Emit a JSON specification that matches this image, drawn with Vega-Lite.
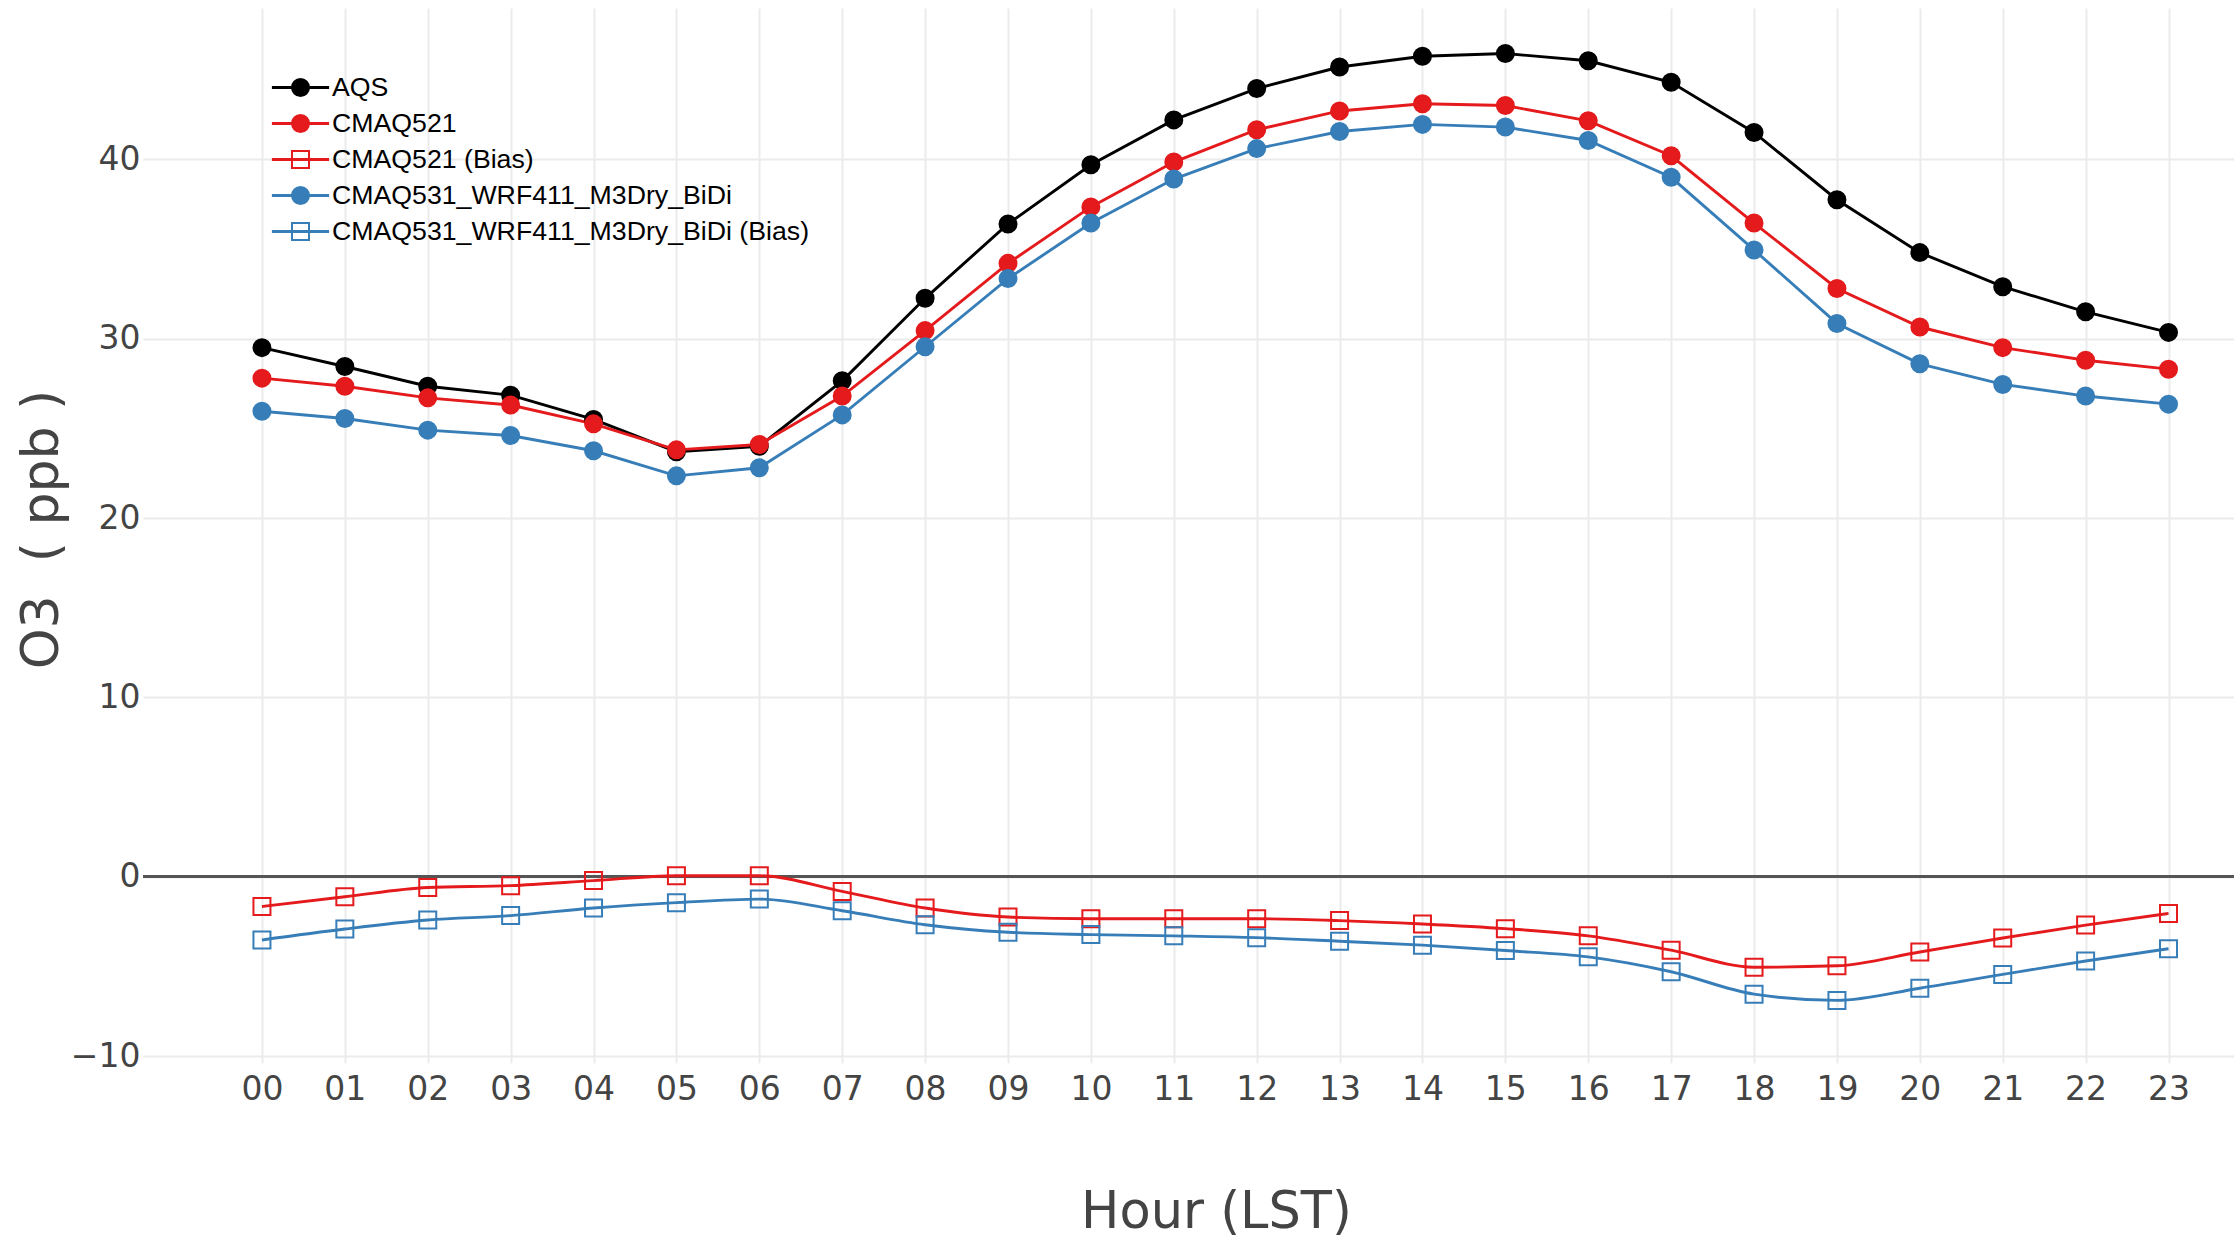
{
  "$schema": "https://vega.github.io/schema/vega-lite/v6.json",
  "width": 2091,
  "height": 1048,
  "autosize": {"type": "none"},
  "padding": {"left": 143, "top": 8, "right": 0, "bottom": 189},
  "background": "white",
  "config": {"view": {"stroke": null}, "font": "DejaVu Sans"},
  "datasets": {
    "o3": [
      {"hour":0,"series":"AQS","value":29.5},{"hour":1,"series":"AQS","value":28.45},{"hour":2,"series":"AQS","value":27.35},{"hour":3,"series":"AQS","value":26.85},{"hour":4,"series":"AQS","value":25.5},{"hour":5,"series":"AQS","value":23.7},{"hour":6,"series":"AQS","value":24.0},{"hour":7,"series":"AQS","value":27.65},{"hour":8,"series":"AQS","value":32.25},{"hour":9,"series":"AQS","value":36.4},{"hour":10,"series":"AQS","value":39.7},{"hour":11,"series":"AQS","value":42.2},{"hour":12,"series":"AQS","value":43.95},{"hour":13,"series":"AQS","value":45.15},{"hour":14,"series":"AQS","value":45.75},{"hour":15,"series":"AQS","value":45.9},{"hour":16,"series":"AQS","value":45.5},{"hour":17,"series":"AQS","value":44.3},{"hour":18,"series":"AQS","value":41.5},{"hour":19,"series":"AQS","value":37.75},{"hour":20,"series":"AQS","value":34.8},{"hour":21,"series":"AQS","value":32.9},{"hour":22,"series":"AQS","value":31.5},{"hour":23,"series":"AQS","value":30.35},
      {"hour":0,"series":"CMAQ521","value":27.8},{"hour":1,"series":"CMAQ521","value":27.35},{"hour":2,"series":"CMAQ521","value":26.7},{"hour":3,"series":"CMAQ521","value":26.3},{"hour":4,"series":"CMAQ521","value":25.25},{"hour":5,"series":"CMAQ521","value":23.8},{"hour":6,"series":"CMAQ521","value":24.1},{"hour":7,"series":"CMAQ521","value":26.8},{"hour":8,"series":"CMAQ521","value":30.45},{"hour":9,"series":"CMAQ521","value":34.2},{"hour":10,"series":"CMAQ521","value":37.35},{"hour":11,"series":"CMAQ521","value":39.85},{"hour":12,"series":"CMAQ521","value":41.65},{"hour":13,"series":"CMAQ521","value":42.7},{"hour":14,"series":"CMAQ521","value":43.1},{"hour":15,"series":"CMAQ521","value":43.0},{"hour":16,"series":"CMAQ521","value":42.15},{"hour":17,"series":"CMAQ521","value":40.2},{"hour":18,"series":"CMAQ521","value":36.45},{"hour":19,"series":"CMAQ521","value":32.8},{"hour":20,"series":"CMAQ521","value":30.65},{"hour":21,"series":"CMAQ521","value":29.5},{"hour":22,"series":"CMAQ521","value":28.8},{"hour":23,"series":"CMAQ521","value":28.3},
      {"hour":0,"series":"CMAQ521 (Bias)","value":-1.66},{"hour":1,"series":"CMAQ521 (Bias)","value":-1.12},{"hour":2,"series":"CMAQ521 (Bias)","value":-0.6},{"hour":3,"series":"CMAQ521 (Bias)","value":-0.5},{"hour":4,"series":"CMAQ521 (Bias)","value":-0.22},{"hour":5,"series":"CMAQ521 (Bias)","value":0.05},{"hour":6,"series":"CMAQ521 (Bias)","value":0.05},{"hour":7,"series":"CMAQ521 (Bias)","value":-0.82},{"hour":8,"series":"CMAQ521 (Bias)","value":-1.75},{"hour":9,"series":"CMAQ521 (Bias)","value":-2.25},{"hour":10,"series":"CMAQ521 (Bias)","value":-2.35},{"hour":11,"series":"CMAQ521 (Bias)","value":-2.35},{"hour":12,"series":"CMAQ521 (Bias)","value":-2.35},{"hour":13,"series":"CMAQ521 (Bias)","value":-2.45},{"hour":14,"series":"CMAQ521 (Bias)","value":-2.64},{"hour":15,"series":"CMAQ521 (Bias)","value":-2.9},{"hour":16,"series":"CMAQ521 (Bias)","value":-3.3},{"hour":17,"series":"CMAQ521 (Bias)","value":-4.1},{"hour":18,"series":"CMAQ521 (Bias)","value":-5.05},{"hour":19,"series":"CMAQ521 (Bias)","value":-4.97},{"hour":20,"series":"CMAQ521 (Bias)","value":-4.2},{"hour":21,"series":"CMAQ521 (Bias)","value":-3.42},{"hour":22,"series":"CMAQ521 (Bias)","value":-2.7},{"hour":23,"series":"CMAQ521 (Bias)","value":-2.05},
      {"hour":0,"series":"CMAQ531_WRF411_M3Dry_BiDi","value":25.95},{"hour":1,"series":"CMAQ531_WRF411_M3Dry_BiDi","value":25.55},{"hour":2,"series":"CMAQ531_WRF411_M3Dry_BiDi","value":24.9},{"hour":3,"series":"CMAQ531_WRF411_M3Dry_BiDi","value":24.6},{"hour":4,"series":"CMAQ531_WRF411_M3Dry_BiDi","value":23.75},{"hour":5,"series":"CMAQ531_WRF411_M3Dry_BiDi","value":22.35},{"hour":6,"series":"CMAQ531_WRF411_M3Dry_BiDi","value":22.8},{"hour":7,"series":"CMAQ531_WRF411_M3Dry_BiDi","value":25.75},{"hour":8,"series":"CMAQ531_WRF411_M3Dry_BiDi","value":29.55},{"hour":9,"series":"CMAQ531_WRF411_M3Dry_BiDi","value":33.35},{"hour":10,"series":"CMAQ531_WRF411_M3Dry_BiDi","value":36.45},{"hour":11,"series":"CMAQ531_WRF411_M3Dry_BiDi","value":38.9},{"hour":12,"series":"CMAQ531_WRF411_M3Dry_BiDi","value":40.6},{"hour":13,"series":"CMAQ531_WRF411_M3Dry_BiDi","value":41.55},{"hour":14,"series":"CMAQ531_WRF411_M3Dry_BiDi","value":41.95},{"hour":15,"series":"CMAQ531_WRF411_M3Dry_BiDi","value":41.8},{"hour":16,"series":"CMAQ531_WRF411_M3Dry_BiDi","value":41.05},{"hour":17,"series":"CMAQ531_WRF411_M3Dry_BiDi","value":39.0},{"hour":18,"series":"CMAQ531_WRF411_M3Dry_BiDi","value":34.95},{"hour":19,"series":"CMAQ531_WRF411_M3Dry_BiDi","value":30.85},{"hour":20,"series":"CMAQ531_WRF411_M3Dry_BiDi","value":28.6},{"hour":21,"series":"CMAQ531_WRF411_M3Dry_BiDi","value":27.45},{"hour":22,"series":"CMAQ531_WRF411_M3Dry_BiDi","value":26.8},{"hour":23,"series":"CMAQ531_WRF411_M3Dry_BiDi","value":26.35},
      {"hour":0,"series":"CMAQ531_WRF411_M3Dry_BiDi (Bias)","value":-3.53},{"hour":1,"series":"CMAQ531_WRF411_M3Dry_BiDi (Bias)","value":-2.92},{"hour":2,"series":"CMAQ531_WRF411_M3Dry_BiDi (Bias)","value":-2.42},{"hour":3,"series":"CMAQ531_WRF411_M3Dry_BiDi (Bias)","value":-2.17},{"hour":4,"series":"CMAQ531_WRF411_M3Dry_BiDi (Bias)","value":-1.75},{"hour":5,"series":"CMAQ531_WRF411_M3Dry_BiDi (Bias)","value":-1.45},{"hour":6,"series":"CMAQ531_WRF411_M3Dry_BiDi (Bias)","value":-1.25},{"hour":7,"series":"CMAQ531_WRF411_M3Dry_BiDi (Bias)","value":-1.9},{"hour":8,"series":"CMAQ531_WRF411_M3Dry_BiDi (Bias)","value":-2.68},{"hour":9,"series":"CMAQ531_WRF411_M3Dry_BiDi (Bias)","value":-3.1},{"hour":10,"series":"CMAQ531_WRF411_M3Dry_BiDi (Bias)","value":-3.23},{"hour":11,"series":"CMAQ531_WRF411_M3Dry_BiDi (Bias)","value":-3.3},{"hour":12,"series":"CMAQ531_WRF411_M3Dry_BiDi (Bias)","value":-3.4},{"hour":13,"series":"CMAQ531_WRF411_M3Dry_BiDi (Bias)","value":-3.6},{"hour":14,"series":"CMAQ531_WRF411_M3Dry_BiDi (Bias)","value":-3.82},{"hour":15,"series":"CMAQ531_WRF411_M3Dry_BiDi (Bias)","value":-4.12},{"hour":16,"series":"CMAQ531_WRF411_M3Dry_BiDi (Bias)","value":-4.47},{"hour":17,"series":"CMAQ531_WRF411_M3Dry_BiDi (Bias)","value":-5.3},{"hour":18,"series":"CMAQ531_WRF411_M3Dry_BiDi (Bias)","value":-6.55},{"hour":19,"series":"CMAQ531_WRF411_M3Dry_BiDi (Bias)","value":-6.9},{"hour":20,"series":"CMAQ531_WRF411_M3Dry_BiDi (Bias)","value":-6.22},{"hour":21,"series":"CMAQ531_WRF411_M3Dry_BiDi (Bias)","value":-5.45},{"hour":22,"series":"CMAQ531_WRF411_M3Dry_BiDi (Bias)","value":-4.7},{"hour":23,"series":"CMAQ531_WRF411_M3Dry_BiDi (Bias)","value":-4.02}
    ]
  },
  "data": {"name": "o3"},
  "layer": [
    {
      "mark": {"type": "rule", "color": "#555555", "strokeWidth": 2.7},
      "encoding": {
        "y": {
          "datum": 0,
          "type": "quantitative",
          "scale": {"domain": [-10, 48.44], "nice": false, "zero": false},
          "axis": {
            "values": [-10, 0, 10, 20, 30, 40],
            "labelExpr": "datum.value < 0 ? '\u2212' + abs(datum.value) : datum.label",
            "grid": true, "gridColor": "#ebebeb", "gridWidth": 2,
            "domain": false, "ticks": false,
            "labelPadding": 3, "labelFont": "DejaVu Sans", "labelFontSize": 33, "labelColor": "#444444",
            "title": "O3\u00a0 ( ppb )", "titleFont": "DejaVu Sans", "titleFontSize": 52, "titleFontWeight": "normal", "titleColor": "#444444",
            "titleAngle": -90, "titleX": -86, "titleY": 521, "titleAlign": "center", "titleBaseline": "alphabetic"
          }
        }
      }
    },
    {
      "transform": [{"filter": "indexof(datum.series, 'Bias') < 0"}],
      "mark": {"type": "line", "strokeWidth": 2.9},
      "encoding": {
        "x": {
          "field": "hour", "type": "quantitative",
          "scale": {"domain": [-1.435, 23.79], "nice": false, "zero": false},
          "axis": {
            "values": [0,1,2,3,4,5,6,7,8,9,10,11,12,13,14,15,16,17,18,19,20,21,22,23],
            "labelExpr": "datum.value < 10 ? '0' + datum.value : '' + datum.value",
            "grid": true, "gridColor": "#ebebeb", "gridWidth": 2,
            "domain": false, "ticks": true, "tickColor": "#ebebeb", "tickWidth": 2, "tickSize": 7,
            "labelPadding": 10, "labelFont": "DejaVu Sans", "labelFontSize": 33, "labelColor": "#444444",
            "title": "Hour (LST)", "titleFont": "DejaVu Sans", "titleFontSize": 51, "titleFontWeight": "normal", "titleColor": "#444444",
            "titleX": 1073, "titleY": 171, "titleAlign": "center", "titleBaseline": "alphabetic"
          }
        },
        "y": {"field": "value", "type": "quantitative"},
        "color": {
          "field": "series", "type": "nominal",
          "scale": {
            "domain": ["AQS", "CMAQ521", "CMAQ521 (Bias)", "CMAQ531_WRF411_M3Dry_BiDi", "CMAQ531_WRF411_M3Dry_BiDi (Bias)"],
            "range": ["#000000", "#e41a1c", "#e41a1c", "#377eb8", "#377eb8"]
          },
          "legend": {
            "title": null, "orient": "none", "legendX": 143, "legendY": 65, "padding": 0,
            "symbolType": "M-2.2,0H2.2", "symbolSize": 676, "symbolStrokeWidth": 3,
            "labelFont": "Liberation Sans", "labelFontSize": 26.7, "labelColor": "#000000", "labelLimit": 1000, "labelOffset": 17,
            "rowPadding": 7
          }
        }
      }
    },
    {
      "transform": [{"filter": "indexof(datum.series, 'Bias') >= 0"}],
      "mark": {"type": "line", "strokeWidth": 2.9, "interpolate": "monotone"},
      "encoding": {
        "x": {"field": "hour", "type": "quantitative"},
        "y": {"field": "value", "type": "quantitative"},
        "color": {"field": "series", "type": "nominal"}
      }
    },
    {
      "mark": {"type": "point", "strokeWidth": 2, "opacity": 1},
      "encoding": {
        "x": {"field": "hour", "type": "quantitative"},
        "y": {"field": "value", "type": "quantitative"},
        "fill": {
          "field": "series", "type": "nominal",
          "scale": {"range": ["#000000", "#e41a1c", "transparent", "#377eb8", "transparent"]},
          "legend": {
            "title": null, "orient": "none", "legendX": 148, "legendY": 70, "padding": 0,
            "symbolSize": 289, "symbolStrokeWidth": 2,
            "labelExpr": "''", "labelFontSize": 1, "labelLimit": 1000, "labelOffset": 0,
            "rowPadding": 11
          }
        },
        "stroke": {
          "field": "series", "type": "nominal",
          "scale": {"range": ["#000000", "#e41a1c", "#e41a1c", "#377eb8", "#377eb8"]}
        },
        "shape": {
          "field": "series", "type": "nominal",
          "scale": {"range": ["circle", "circle", "square", "circle", "square"]}
        },
        "size": {"value": 289}
      }
    }
  ]
}
